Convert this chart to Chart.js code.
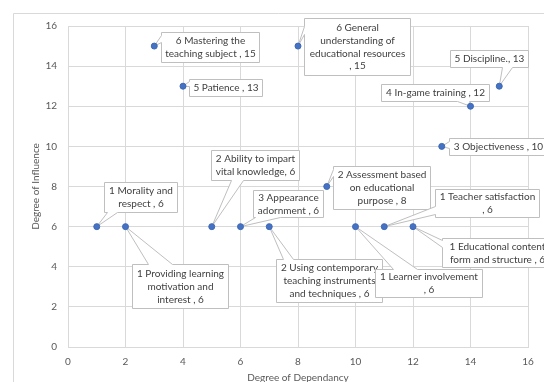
<!DOCTYPE html>
<html>
<head>
<meta charset="utf-8">
<script src="https://cdn.jsdelivr.net/npm/chart.js@4/dist/chart.umd.min.js"></script>
<style>
html, body { margin: 0; padding: 0; background: #fff; }
</style>
</head>
<body>
<canvas id="chart" width="544" height="382"></canvas>
<script>
// values
const dependency = [3, 4, 8, 15, 14, 13, 5, 9, 1, 2, 6, 7, 10, 11, 12];
const influence = [15, 13, 15, 13, 12, 10, 6, 8, 6, 6, 6, 6, 6, 6, 6];
const labelLines = [
    ['6 Mastering the', 'teaching subject , 15'],
    ['5 Patience , 13'],
    ['6 General', 'understanding of', 'educational resources', ', 15'],
    ['5 Discipline., 13'],
    ['4 In-game training , 12'],
    ['3 Objectiveness , 10'],
    ['2 Ability to impart', 'vital knowledge, 6'],
    ['2 Assessment based', 'on educational', 'purpose , 8'],
    ['1 Morality and', 'respect , 6'],
    ['1 Providing learning', 'motivation and', 'interest , 6'],
    ['3 Appearance', 'adornment , 6'],
    ['2 Using contemporary', 'teaching instruments', 'and techniques , 6'],
    ['1 Learner involvement', ', 6'],
    ['1 Teacher satisfaction', ', 6'],
    ['1 Educational content', 'form and structure , 6']
];
const xTitle = 'Degree of Dependancy';
const yTitle = 'Degree of Influence';

// callout box placement relative to its point (layout only)
const callouts = [
    { dx: 7, dy: -14, w: 98, h: 30, side: 'left', a: 3, b: 10 },
    { dx: 6, dy: -7, w: 73, h: 17, side: 'left', a: 2, b: 7 },
    { dx: 6, dy: -28, w: 106, h: 57, side: 'left', a: 8, b: 16 },
    { dx: -49, dy: -36, w: 78, h: 17, side: 'bottom', a: 52, b: 62 },
    { dx: -90, dy: -22, w: 108, h: 17, side: 'bottom', a: 76, b: 88 },
    { dx: 7, dy: -8, w: 98, h: 17, side: 'left', a: 3, b: 10 },
    { dx: -1, dy: -77, w: 88, h: 30, side: 'bottom', a: 20, b: 32 },
    { dx: 6, dy: -21, w: 97, h: 43, side: 'left', a: 3, b: 10 },
    { dx: 7, dy: -45, w: 73, h: 30, side: 'bottom', a: 3, b: 13 },
    { dx: 6, dy: 37, w: 96, h: 44, side: 'top', a: 16, b: 40 },
    { dx: 12, dy: -37, w: 70, h: 27, side: 'bottom', a: 2, b: 27 },
    { dx: 7, dy: 32, w: 106, h: 43, side: 'top', a: 7, b: 17 },
    { dx: 19, dy: 42, w: 107, h: 28, side: 'top', a: 18, b: 42 },
    { dx: 51, dy: -38, w: 104, h: 28, side: 'left', a: 17, b: 25 },
    { dx: 29, dy: 11, w: 110, h: 29, side: 'left', a: 2, b: 9 }
];

const ink = '#595959';
const hairline = '#d9d9d9';
const labelFont = '10px Lato';

function calloutPath(ctx, L, T, w, h, c, tx, ty) {
    const R = L + w, B = T + h;
    ctx.beginPath();
    ctx.moveTo(L, T);
    if (c.side === 'top') { ctx.lineTo(L + c.a, T); ctx.lineTo(tx, ty); ctx.lineTo(L + c.b, T); }
    ctx.lineTo(R, T);
    if (c.side === 'right') { ctx.lineTo(R, T + c.a); ctx.lineTo(tx, ty); ctx.lineTo(R, T + c.b); }
    ctx.lineTo(R, B);
    if (c.side === 'bottom') { ctx.lineTo(L + c.b, B); ctx.lineTo(tx, ty); ctx.lineTo(L + c.a, B); }
    ctx.lineTo(L, B);
    if (c.side === 'left') { ctx.lineTo(L, T + c.b); ctx.lineTo(tx, ty); ctx.lineTo(L, T + c.a); }
    ctx.closePath();
}

const frame = {
    id: 'frame',
    beforeDraw(chart) {
        const ctx = chart.ctx;
        ctx.save();
        ctx.fillStyle = '#fff';
        ctx.fillRect(0, 0, chart.width, chart.height);
        ctx.strokeStyle = hairline;
        ctx.lineWidth = 1;
        ctx.beginPath();
        ctx.moveTo(13.5, chart.height);
        ctx.lineTo(13.5, 13.5);
        ctx.lineTo(chart.width, 13.5);
        ctx.stroke();
        ctx.restore();
    }
};

const calloutLabels = {
    id: 'calloutLabels',
    beforeDatasetsDraw(chart) {
        const ctx = chart.ctx;
        const meta = chart.getDatasetMeta(0);
        ctx.save();
        meta.data.forEach((pt, i) => {
            const c = callouts[i];
            const L = Math.round(pt.x + c.dx) + 0.5;
            const T = Math.round(pt.y + c.dy) + 0.5;
            calloutPath(ctx, L, T, c.w, c.h, c, pt.x, pt.y);
            ctx.fillStyle = '#fff';
            ctx.fill();
            ctx.strokeStyle = '#bfbfbf';
            ctx.lineWidth = 1;
            ctx.stroke();
            const lines = labelLines[i];
            const lh = 12.8;
            ctx.fillStyle = '#404040';
            ctx.font = labelFont;
            ctx.textAlign = 'center';
            ctx.textBaseline = 'middle';
            const cy = T + c.h / 2 - (lines.length - 1) * lh / 2;
            lines.forEach((line, k) => ctx.fillText(line, L + c.w / 2, cy + k * lh));
        });
        ctx.restore();
    }
};

new Chart(document.getElementById('chart'), {
    type: 'scatter',
    data: {
        datasets: [{
            data: dependency.map((x, i) => ({ x, y: influence[i] })),
            backgroundColor: '#4472c4',
            borderColor: '#3f69b5',
            borderWidth: 1,
            pointRadius: 3,
            pointHoverRadius: 3
        }]
    },
    options: {
        responsive: false,
        animation: false,
        devicePixelRatio: 1,
        layout: { padding: { top: 26, right: 16, left: 0, bottom: 0 } },
        plugins: { legend: { display: false }, tooltip: { enabled: false } },
        scales: {
            x: {
                type: 'linear',
                min: 0,
                max: 16,
                afterFit: scale => { scale.height = 35; },
                grid: { color: hairline, drawTicks: false },
                border: { color: hairline },
                ticks: { stepSize: 2, padding: 9, color: ink, font: { family: 'Lato', size: 10 } },
                title: { display: true, text: xTitle, color: ink, font: { family: 'Lato', size: 10 }, padding: { top: 0, bottom: -2 } }
            },
            y: {
                min: 0,
                max: 16,
                afterFit: scale => { scale.width = 68; },
                grid: { color: hairline, drawTicks: false },
                border: { color: hairline },
                ticks: { stepSize: 2, padding: 11, color: ink, font: { family: 'Lato', size: 10 } },
                title: { display: true, text: yTitle, color: ink, font: { family: 'Lato', size: 10 }, padding: { top: 30, bottom: 0 } }
            }
        }
    },
    plugins: [frame, calloutLabels]
});
</script>
</body>
</html>
